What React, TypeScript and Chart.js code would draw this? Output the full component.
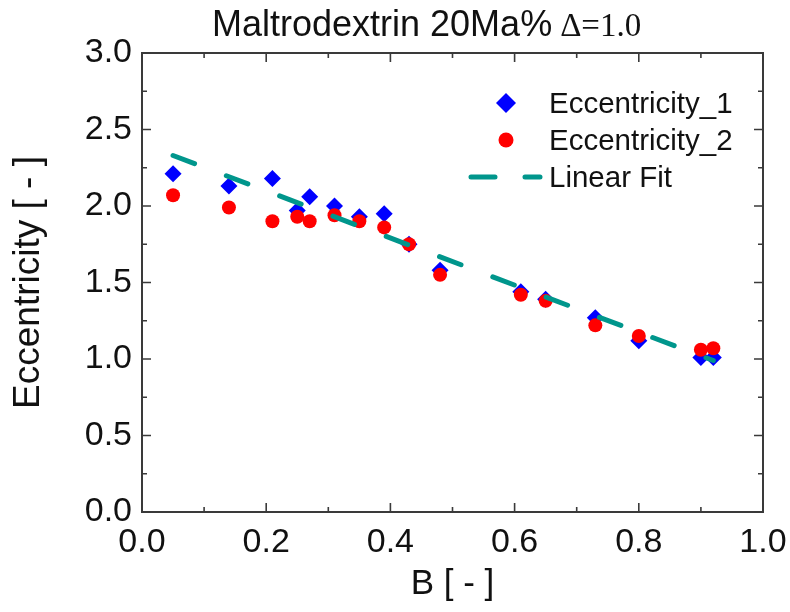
import React, { useEffect, useRef } from "react";
import { Chart, registerables } from "chart.js";

Chart.register(...registerables);

const titleMain = "Maltrodextrin 20Ma% ";
const titleDelta = "Δ=1.0";
const xTitle = "B [ - ]";
const yTitle = "Eccentricity [ - ]";

const bValues = [0.05, 0.14, 0.21, 0.25, 0.27, 0.31, 0.35, 0.39, 0.43, 0.48, 0.61, 0.65, 0.73, 0.8, 0.9, 0.92];
const eccentricity1 = [2.21, 2.13, 2.18, 1.97, 2.06, 2.0, 1.93, 1.95, 1.75, 1.58, 1.44, 1.39, 1.27, 1.12, 1.01, 1.01];
const eccentricity2 = [2.07, 1.99, 1.9, 1.93, 1.9, 1.94, 1.9, 1.86, 1.75, 1.55, 1.42, 1.38, 1.22, 1.15, 1.06, 1.07];
const fitX = [0.05, 0.92];
const fitY = [2.33, 0.99];

const seriesLabels = ["Eccentricity_1", "Eccentricity_2", "Linear Fit"];

const SANS = "'Liberation Sans', Arial, Helvetica, sans-serif";
const SERIF = "'Liberation Serif', 'Times New Roman', serif";
const TEAL = "#00968c";
const FIT_DASH = [23, 34];

const framePlugin = {
  id: "frameTicks",
  afterDatasetsDraw(chart: any) {
    const { ctx, chartArea: a, scales } = chart;
    ctx.save();
    ctx.strokeStyle = "#3a3a3a";
    ctx.lineWidth = 2;
    ctx.strokeRect(a.left, a.top, a.right - a.left, a.bottom - a.top);
    ctx.lineWidth = 1.6;
    const major = 9;
    const minor = 5;
    const xs = scales.x;
    const ys = scales.y;
    const xt = xs.ticks.map((t: any) => t.value);
    const yt = ys.ticks.map((t: any) => t.value);
    const drawX = (v: number, len: number) => {
      const px = xs.getPixelForValue(v);
      ctx.beginPath();
      ctx.moveTo(px, a.bottom);
      ctx.lineTo(px, a.bottom - len);
      ctx.moveTo(px, a.top);
      ctx.lineTo(px, a.top + len);
      ctx.stroke();
    };
    const drawY = (v: number, len: number) => {
      const py = ys.getPixelForValue(v);
      ctx.beginPath();
      ctx.moveTo(a.left, py);
      ctx.lineTo(a.left + len, py);
      ctx.moveTo(a.right, py);
      ctx.lineTo(a.right - len, py);
      ctx.stroke();
    };
    xt.forEach((v: number, i: number) => {
      drawX(v, major);
      if (i < xt.length - 1) drawX((v + xt[i + 1]) / 2, minor);
    });
    yt.forEach((v: number, i: number) => {
      drawY(v, major);
      if (i < yt.length - 1) drawY((v + yt[i + 1]) / 2, minor);
    });
    ctx.restore();
  },
};

const textPlugin = {
  id: "titleLegend",
  afterDraw(chart: any) {
    const { ctx } = chart;
    ctx.save();
    ctx.fillStyle = "#111";
    ctx.textBaseline = "alphabetic";
    ctx.textAlign = "left";
    ctx.font = `36px ${SANS}`;
    const tx = 212;
    ctx.fillText(titleMain, tx, 36);
    const w = ctx.measureText(titleMain).width;
    ctx.font = `33px ${SERIF}`;
    ctx.fillText(titleDelta, tx + w - 2, 36);

    const ds = chart.data.datasets;
    const textX = 549;
    const rows = [103, 140, 177];
    ctx.font = `29.5px ${SANS}`;
    ds.forEach((d: any, i: number) => {
      const y = rows[i];
      if (d.showLine) {
        ctx.save();
        ctx.strokeStyle = d.borderColor;
        ctx.lineWidth = d.borderWidth;
        ctx.lineCap = "round";
        ctx.beginPath();
        ctx.moveTo(471, y);
        ctx.lineTo(495, y);
        ctx.moveTo(525, y);
        ctx.lineTo(540, y);
        ctx.stroke();
        ctx.restore();
      } else {
        ctx.fillStyle = d.backgroundColor;
        ctx.beginPath();
        if (d.pointStyle === "rectRot") {
          const r = 10;
          ctx.moveTo(506, y - r);
          ctx.lineTo(506 + r, y);
          ctx.lineTo(506, y + r);
          ctx.lineTo(506 - r, y);
          ctx.closePath();
        } else {
          ctx.arc(506, y, 7.5, 0, Math.PI * 2);
        }
        ctx.fill();
      }
      ctx.fillStyle = "#111";
      ctx.fillText(d.label, textX, y + 10);
    });
    ctx.restore();
  },
};

export default function App() {
  const ref = useRef<HTMLCanvasElement>(null);

  useEffect(() => {
    const canvas = ref.current;
    if (!canvas) return;
    const chart = new Chart(canvas, {
      type: "scatter",
      data: {
        datasets: [
          {
            label: seriesLabels[0],
            data: bValues.map((x, i) => ({ x, y: eccentricity1[i] })),
            pointStyle: "rectRot",
            pointRadius: 8.5,
            backgroundColor: "#0000ff",
            borderColor: "#0000ff",
            borderWidth: 0,
            order: 2,
          },
          {
            label: seriesLabels[1],
            data: bValues.map((x, i) => ({ x, y: eccentricity2[i] })),
            pointStyle: "circle",
            pointRadius: 7,
            backgroundColor: "#ff0000",
            borderColor: "#ff0000",
            borderWidth: 0,
            order: 1,
          },
          {
            type: "line",
            label: seriesLabels[2],
            data: fitX.map((x, i) => ({ x, y: fitY[i] })),
            showLine: true,
            pointRadius: 0,
            borderColor: TEAL,
            backgroundColor: TEAL,
            borderWidth: 5,
            borderDash: FIT_DASH,
            borderCapStyle: "round",
            fill: false,
            order: 0,
          } as any,
        ],
      },
      options: {
        animation: false,
        responsive: false,
        maintainAspectRatio: false,
        layout: { padding: { left: 0, right: 27, top: 53, bottom: 0 } },
        plugins: {
          legend: { display: false },
          title: { display: false },
          tooltip: { enabled: false },
        },
        scales: {
          x: {
            type: "linear",
            min: 0,
            max: 1,
            grid: { display: false, drawTicks: false },
            border: { display: false },
            ticks: {
              stepSize: 0.2,
              padding: 10,
              color: "#111",
              font: { family: SANS, size: 34 },
              maxRotation: 0,
              callback: (v: any) => Number(v).toFixed(1),
            },
            title: {
              display: true,
              text: xTitle,
              color: "#111",
              font: { family: SANS, size: 35 },
              padding: { top: 0, bottom: 7 },
            },
            afterFit: (s: any) => {
              s.height = 100;
              s.paddingLeft = 0;
              s.paddingRight = 0;
            },
          },
          y: {
            type: "linear",
            min: 0,
            max: 3,
            grid: { display: false, drawTicks: false },
            border: { display: false },
            ticks: {
              stepSize: 0.5,
              padding: 10,
              color: "#111",
              font: { family: SANS, size: 34 },
              callback: (v: any) => Number(v).toFixed(1),
            },
            title: {
              display: true,
              text: yTitle,
              color: "#111",
              font: { family: SANS, size: 37 },
              padding: { top: 7, bottom: 0 },
            },
            afterFit: (s: any) => {
              s.width = 142;
              s.paddingTop = 0;
              s.paddingBottom = 0;
            },
          },
        },
      },
      plugins: [framePlugin, textPlugin],
    });
    return () => chart.destroy();
  }, []);

  return (
    <div style={{ position: "fixed", left: 0, top: 0, width: 790, height: 612, background: "#fff" }}>
      <canvas ref={ref} width={790} height={612} style={{ width: 790, height: 612 }} />
    </div>
  );
}
